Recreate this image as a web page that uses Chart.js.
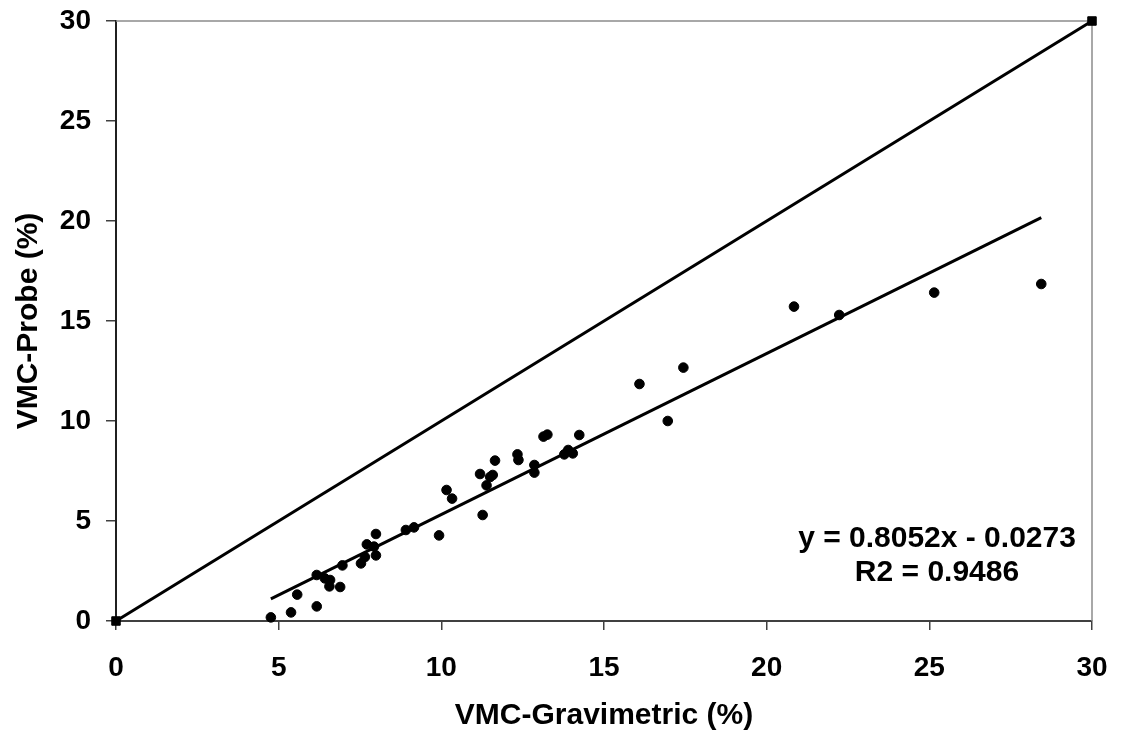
<!DOCTYPE html>
<html>
<head>
<meta charset="utf-8">
<script src="https://cdn.jsdelivr.net/npm/chart.js@4/dist/chart.umd.min.js"></script>
<style>
  html, body { margin: 0; padding: 0; background: #fff; }
  #wrap { width: 1123px; height: 740px; }
</style>
</head>
<body>
<div id="wrap"><canvas id="c" width="1123" height="740"></canvas></div>
<script>
// Gravimetric vs probe volumetric moisture content (%)
const vmcGravimetric = [
  4.76, 5.38, 5.57, 6.17, 6.17, 6.42, 6.58, 6.56, 6.89, 6.96,
  7.53, 7.65, 7.71, 7.93, 7.99, 7.99, 8.91, 9.16, 9.93, 10.16,
  10.33, 11.27, 11.19, 11.50, 11.58, 11.39, 11.65, 12.34, 12.37, 12.86,
  12.86, 13.14, 13.26, 13.78, 13.90, 14.04, 14.24, 16.09, 16.96, 17.44,
  20.84, 22.23, 25.15, 28.44
];
const vmcProbe = [
  0.18, 0.43, 1.32, 0.73, 2.30, 2.13, 2.05, 1.73, 1.70, 2.78,
  2.88, 3.20, 3.83, 3.72, 3.28, 4.35, 4.55, 4.68, 4.28, 6.55,
  6.12, 5.30, 7.35, 7.20, 7.30, 6.78, 8.02, 8.33, 8.05, 7.80,
  7.42, 9.22, 9.32, 8.33, 8.55, 8.38, 9.30, 11.85, 10.00, 12.67,
  15.72, 15.30, 16.42, 16.85
];

// 1:1 reference line end points
const oneToOneX = [0, 30];
const oneToOneY = [0, 30];

// Linear fit (fitted on volumetric fractions; intercept scaled to percent)
const fitSlope = 0.8052;
const fitIntercept = -0.0273 * 100;
const fitLabel = ['y = 0.8052x - 0.0273', 'R2 = 0.9486'];

const axisTicks = [0, 5, 10, 15, 20, 25, 30];
const xTitle = 'VMC-Gravimetric (%)';
const yTitle = 'VMC-Probe (%)';

const FONT = '"Liberation Sans", Arial, sans-serif';

const scatterPts = vmcGravimetric.map((x, i) => ({ x: x, y: vmcProbe[i] }));
const xMin = Math.min(...vmcGravimetric);
const xMax = Math.max(...vmcGravimetric);
const fitPts = [xMin, xMax].map(x => ({ x: x, y: fitSlope * x + fitIntercept }));
const refPts = oneToOneX.map((x, i) => ({ x: x, y: oneToOneY[i] }));

// Plot-area frame (top and right sides) plus the fit equation text
const framePlugin = {
  id: 'frame',
  beforeDatasetsDraw(chart) {
    const { ctx, chartArea: a } = chart;
    ctx.save();
    ctx.strokeStyle = '#8c8c8c';
    ctx.lineWidth = 1.5;
    ctx.beginPath();
    ctx.moveTo(a.left, a.top);
    ctx.lineTo(a.right, a.top);
    ctx.lineTo(a.right, a.bottom);
    ctx.stroke();
    ctx.restore();
  },
  afterDraw(chart) {
    const { ctx, chartArea: a } = chart;
    ctx.save();
    ctx.fillStyle = '#000';
    ctx.font = 'bold 30px ' + FONT;
    ctx.textAlign = 'center';
    ctx.textBaseline = 'middle';
    ctx.fillText(fitLabel[0], a.right - 155, a.bottom - 82);
    ctx.fillText(fitLabel[1], a.right - 155, a.bottom - 48);
    ctx.restore();
  }
};

const tickFont = { family: FONT, size: 28, weight: 'bold' };
const titleFont = { family: FONT, size: 30, weight: 'bold' };

new Chart(document.getElementById('c'), {
  type: 'scatter',
  data: {
    datasets: [
      {
        label: 'Measured',
        data: scatterPts,
        backgroundColor: '#000',
        borderColor: '#000',
        borderWidth: 1,
        pointRadius: 4.8,
        pointStyle: 'circle',
        showLine: false,
        order: 1
      },
      {
        label: 'Linear fit',
        data: fitPts,
        showLine: true,
        borderColor: '#000',
        borderWidth: 3,
        pointRadius: 0,
        order: 2
      },
      {
        label: '1:1',
        data: refPts,
        showLine: true,
        borderColor: '#000',
        backgroundColor: '#000',
        borderWidth: 3,
        pointStyle: 'rect',
        pointRadius: 6,
        pointBorderWidth: 1,
        order: 3
      }
    ]
  },
  options: {
    responsive: false,
    animation: false,
    clip: false,
    layout: { padding: { top: 21, right: 31, left: 0, bottom: 0 } },
    plugins: {
      legend: { display: false },
      tooltip: { enabled: false }
    },
    scales: {
      x: {
        type: 'linear',
        min: 0, max: 30,
        afterBuildTicks(s) { s.ticks = axisTicks.map(v => ({ value: v })); },
        afterFit(s) { s.height = 119; s.paddingLeft = 0; s.paddingRight = 0; },
        border: { display: true, color: '#404040', width: 2 },
        grid: { display: true, drawOnChartArea: false, drawTicks: true, tickLength: 9, color: '#404040', lineWidth: 1.5 },
        ticks: { color: '#000', font: tickFont, padding: 21, maxRotation: 0 },
        title: { display: true, text: xTitle, color: '#000', font: titleFont, padding: { top: 0, bottom: 6 } }
      },
      y: {
        type: 'linear',
        min: 0, max: 30,
        afterBuildTicks(s) { s.ticks = axisTicks.map(v => ({ value: v })); },
        afterFit(s) { s.width = 116; s.paddingTop = 0; s.paddingBottom = 0; },
        border: { display: true, color: '#202020', width: 2 },
        grid: { display: true, drawOnChartArea: false, drawTicks: true, tickLength: 10, color: '#404040', lineWidth: 1.5 },
        ticks: { color: '#000', font: tickFont, padding: 15 },
        title: { display: true, text: yTitle, color: '#000', font: titleFont, padding: { top: 11, bottom: 0 } }
      }
    }
  },
  plugins: [framePlugin]
});
</script>
</body>
</html>
